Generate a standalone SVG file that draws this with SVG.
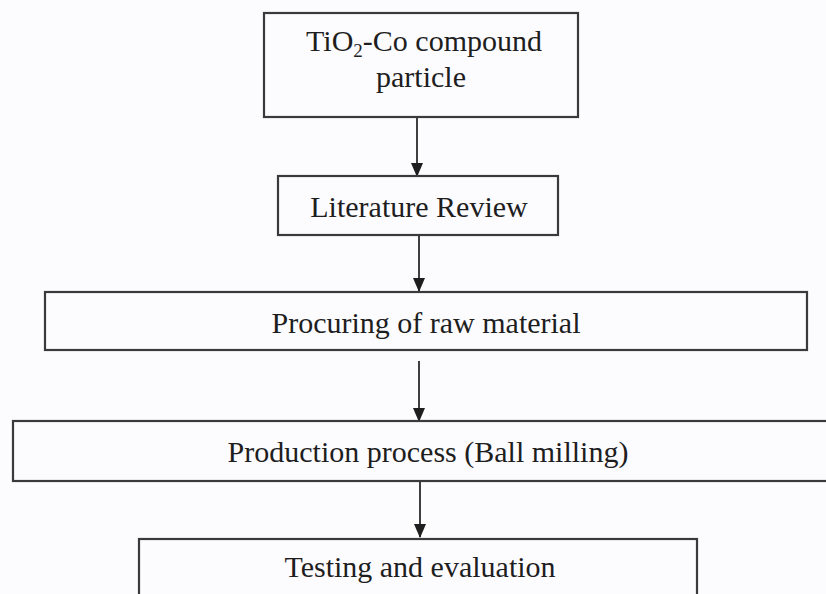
<svg xmlns="http://www.w3.org/2000/svg" width="826" height="594" viewBox="0 0 826 594">
  <defs>
    <style>
      .box { fill: none; stroke: #3a3a3a; stroke-width: 2.2; }
      .lbl { font-family: "Liberation Serif", "Times New Roman", serif; font-size: 30px; fill: #1e1e1e; text-anchor: middle; }
      .conn { stroke: #2a2a2a; stroke-width: 1.8; fill: none; }
    </style>
    <marker id="ah" markerWidth="12" markerHeight="14" refX="6" refY="13" orient="auto-start-reverse" markerUnits="userSpaceOnUse" viewBox="0 0 12 14">
      <path d="M0,0 L12,0 L6,14 Z" fill="#1e1e1e" transform="rotate(0)"/>
    </marker>
  </defs>
  <rect x="0" y="0" width="826" height="594" fill="#fcfcfe"/>

  <g id="connectors">
    <line class="conn" x1="417" y1="117" x2="417" y2="176"/>
    <path d="M411,163 L423,163 L417,177 Z" fill="#1e1e1e"/>
    <line class="conn" x1="419" y1="236" x2="419" y2="291"/>
    <path d="M413,278 L425,278 L419,292 Z" fill="#1e1e1e"/>
    <line class="conn" x1="419" y1="361" x2="419" y2="421"/>
    <path d="M413,408 L425,408 L419,422 Z" fill="#1e1e1e"/>
    <line class="conn" x1="420" y1="482" x2="420" y2="537"/>
    <path d="M414,524 L426,524 L420,538 Z" fill="#1e1e1e"/>
  </g>

  <g id="node1">
    <rect class="box" x="264" y="13" width="314" height="104"/>
    <text class="lbl" x="424" y="51">TiO<tspan font-size="19" dy="6">2</tspan><tspan dy="-6">-Co compound</tspan></text>
    <text class="lbl" x="421" y="87">particle</text>
  </g>

  <g id="node2">
    <rect class="box" x="278" y="176" width="280" height="59"/>
    <text class="lbl" x="419" y="217">Literature Review</text>
  </g>

  <g id="node3">
    <rect class="box" x="45" y="292" width="762" height="58"/>
    <text class="lbl" x="426" y="333">Procuring of raw material</text>
  </g>

  <g id="node4">
    <rect class="box" x="13" y="421" width="830" height="60"/>
    <text class="lbl" x="428" y="462">Production process (Ball milling)</text>
  </g>

  <g id="node5">
    <rect class="box" x="139" y="539" width="558" height="70"/>
    <text class="lbl" x="420" y="577">Testing and evaluation</text>
  </g>
</svg>
